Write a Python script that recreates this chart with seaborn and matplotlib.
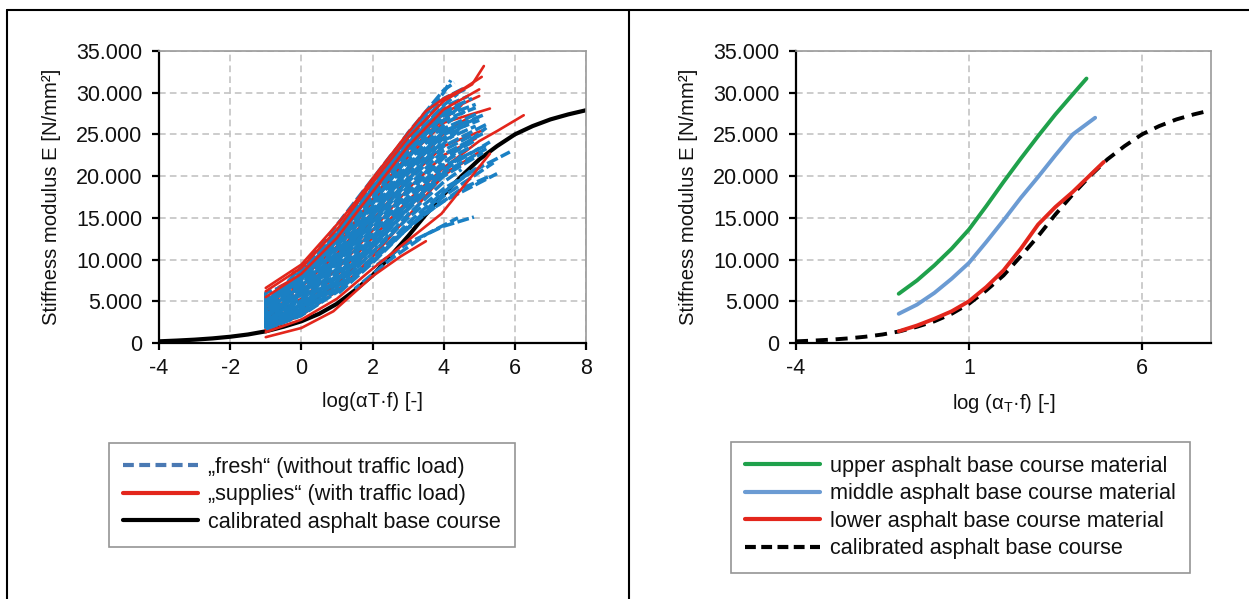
import numpy as np
import pandas as pd
import matplotlib
matplotlib.use("Agg")
import matplotlib.pyplot as plt
from matplotlib.lines import Line2D
from matplotlib.ticker import FuncFormatter
import seaborn as sns

# ---------------------------------------------------------------------------
# Master curve data: stiffness modulus E [N/mm²] over log(aT*f) [-]
# ---------------------------------------------------------------------------
# "fresh" specimens (without traffic load), one entry per test series
fresh_x = [
    [-1, 0, 1, 2, 3, 4, 4.2],
    [-1, 0, 1, 2, 3, 4, 4.6],
    [-1, 0, 1, 2, 3, 4, 4.8],
    [-1, 0, 1, 2, 3, 4, 4.9],
    [-1, 0, 1, 2, 3, 4, 5.0],
    [-1, 0, 1, 2, 3, 4, 4.7],
    [-1, 0, 1, 2, 3, 4, 5.2],
    [-1, 0, 1, 2, 3, 4, 5.1],
    [-1, 0, 1, 2, 3, 4, 4.8],
    [-1, 0, 1, 2, 3, 4, 5.3],
    [-1, 0, 1, 2, 3, 4, 5, 5.86],
    [-1, 0, 1, 2, 3, 4, 5, 5.5],
    [2.0, 3.0, 4.0, 4.85],
    [2.5, 3.5, 4.5, 5.3],
    [-1, 0, 1, 2, 3, 3.8],
    [-1, 0, 1, 2, 3, 4, 4.5],
    [-1, 0, 1, 2, 3, 4, 5.0],
    [-1, 0, 1, 2, 3, 4, 4.9],
    [-1, 0, 1, 2, 3, 4, 5.4],
    [1.5, 2.5, 3.5, 4.4],
    [-1, 0, 1, 2, 3, 4, 4.6],
    [-1, 0, 1, 2, 3, 4, 5.1],
    [-1, 0, 1, 2, 3, 4, 4.4],
    [-1, -1, -0.5, 0.5, 1.5, 2.5, 3.5],
    [-1, 0, 1, 2, 3, 4, 4.7],
    [-1, 0, 1, 2, 3, 4, 5.0],
    [-1, 0, 1, 2, 3, 4, 5.2],
    [-0.5, 0.5, 1.5, 2.5, 3.5, 4.5],
    [-0.5, 0.5, 1.5, 2.5, 3.5, 4.5],
    [0, 1, 2, 3, 4, 4.9],
    [-1, 0, 1, 2, 3, 4, 4.5],
    [-1, 0, 1, 2, 3, 4, 4.3],
    [-1, 0, 1, 2, 3, 4, 4.6],
    [-1, 0, 1, 2, 3, 4, 4.9],
    [-1, 0, 1, 2, 3, 4, 5.1],
    [-1, 0, 1, 2, 3, 4, 4.8],
    [-1, 0, 1, 2, 3, 4, 5.2],
    [-1, 0, 1, 2, 3, 4, 5.0],
    [0.5, 1.5, 2.5, 3.5, 4.5],
    [0.5, 1.5, 2.5, 3.5, 4.5, 5.2],
    [-1, -1, -0.6, 0.2, 1.2, 2.2, 3.2, 4.2],
    [1, 2, 3, 4, 4.8],
]
fresh_E = [
    [4600, 7800, 12600, 18600, 24800, 30000, 31500],
    [4700, 8000, 12600, 18500, 24400, 29200, 30400],
    [4300, 7400, 12000, 17800, 23400, 27800, 29300],
    [3900, 6800, 11200, 16800, 22300, 26700, 28200],
    [3500, 6300, 10500, 15900, 21300, 25700, 27600],
    [3200, 5800, 9800, 15000, 20300, 24600, 26300],
    [2900, 5300, 9200, 14200, 19300, 23600, 26200],
    [2700, 4900, 8600, 13400, 18400, 22600, 25100],
    [2500, 4600, 8100, 12700, 17600, 21700, 23600],
    [2300, 4300, 7600, 12000, 16800, 20800, 24100],
    [2000, 3800, 6800, 10800, 15000, 18500, 21000, 22900],
    [1800, 3500, 6400, 10200, 14000, 17000, 19200, 20300],
    [9000, 12000, 14000, 15100],
    [12000, 15500, 18500, 20000],
    [5000, 8300, 13200, 19500, 25000, 29000],
    [4000, 7000, 11500, 17300, 22800, 27300, 28700],
    [3100, 5900, 9900, 15200, 20700, 25000, 26700],
    [2600, 4700, 8300, 13000, 18000, 22200, 24300],
    [1600, 3300, 6100, 9800, 13800, 17600, 21600],
    [6500, 10000, 13000, 15000],
    [3700, 6600, 10900, 16400, 21800, 26100, 27800],
    [2100, 4000, 7200, 11400, 16000, 20000, 22800],
    [4500, 7700, 12300, 18200, 23900, 28500, 29900],
    [1500, 6000, 6800, 11400, 16900, 22400, 27200],
    [4900, 8100, 12700, 18400, 23900, 28300, 29600],
    [3300, 6000, 10100, 15400, 20900, 25300, 27000],
    [2400, 4500, 7900, 12300, 17200, 21200, 23700],
    [4200, 7600, 12000, 17000, 22000, 25800],
    [3000, 5800, 9400, 13800, 18500, 22500],
    [5600, 9500, 14400, 19800, 24300, 26000],
    [1900, 3700, 6700, 10900, 15400, 19300, 20800],
    [5000, 8200, 13000, 19200, 25200, 30300, 31200],
    [4500, 7600, 12300, 18400, 24300, 29300, 30600],
    [4100, 7200, 11800, 17500, 22900, 27200, 28600],
    [3400, 6100, 10300, 15600, 21000, 25400, 27300],
    [2800, 5100, 8900, 13800, 18800, 23100, 24900],
    [2200, 4100, 7400, 11700, 16400, 20400, 23300],
    [1700, 3400, 6300, 10000, 14400, 18100, 21200],
    [9000, 13800, 19500, 24800, 28500],
    [6200, 10000, 14500, 19300, 23500, 25800],
    [1800, 5500, 6200, 9500, 14000, 19300, 24300, 28300],
    [5800, 9600, 13800, 18000, 20800],
]

# "supplies" specimens (with traffic load)
supplies_x = [
    [-1, 0, 1, 1.5, 2, 3, 3.5, 4, 4.6, 5.07],
    [-1, 0, 1, 2, 3, 4, 4.8, 5.13],
    [-1, 0, 1, 2, 3, 4, 5.0],
    [-1, 0, 1, 2, 3, 4, 5.3],
    [-1, 0, 1, 2, 3, 4, 5.1],
    [-1, 0, 1, 2, 3, 4, 5, 5.5, 6.25],
    [-1, 0, 1, 2, 3, 3.94, 5.3],
    [-1, 0, 0.9, 2, 2.8, 3.5],
    [-1, 0, 1, 2, 3, 4, 5.0],
    [-1, 0, 1, 2, 3, 4, 4.8],
    [-0.66, -0.64, 0, 1, 2, 3, 4, 5.0],
    [-0.26, -0.24, 0.5, 1.5, 2.5, 3.5, 4.5],
    [-1, 0, 1, 2, 3, 4, 4.9],
    [-1, 0, 1, 2, 3, 4, 4.7],
]
supplies_E = [
    [6600, 9400, 14200, 16800, 19700, 25200, 27800, 29300, 30600, 31900],
    [6200, 9000, 13600, 19200, 24600, 29000, 31000, 33200],
    [5500, 8300, 12600, 18100, 23600, 28000, 30400],
    [4800, 7600, 11600, 16900, 22300, 26400, 28100],
    [3600, 6100, 9700, 14700, 19700, 23600, 25500],
    [2600, 4600, 8100, 12600, 17100, 21000, 24200, 25400, 27300],
    [1300, 2800, 5300, 8900, 12300, 15500, 22700],
    [700, 1800, 3800, 8000, 10400, 12200],
    [1600, 3300, 6200, 10300, 15200, 20100, 22900],
    [4100, 6700, 10700, 15700, 20700, 25100, 27300],
    [2700, 6700, 8200, 12600, 18000, 23200, 27600, 29600],
    [3100, 8400, 10000, 14500, 20000, 25000, 28500],
    [3000, 5300, 8800, 13500, 18500, 22500, 24500],
    [2200, 4000, 7000, 11500, 16200, 20300, 22000],
]
# series lying on the outer edge of the bundle (drawn above the fresh curves)
supplies_outer = [0, 1, 2, 6, 7]

# calibrated asphalt base course (master curve)
calibrated_x = [-4, -3.5, -3, -2.5, -2, -1.5, -1, -0.5, 0, 0.5, 1, 1.5, 2,
                2.5, 3, 3.5, 4, 4.5, 5, 5.5, 6, 6.5, 7, 7.5, 8]
calibrated_E = [200, 290, 400, 550, 750, 1020, 1400, 1950, 2600, 3500, 4700,
                6300, 8100, 10400, 12800, 15400, 17800, 20000, 22000, 23600,
                25000, 26000, 26800, 27400, 27900]

# base course layers
upper_x = [-1.03, -0.5, 0, 0.5, 1, 1.5, 2, 2.5, 3, 3.5, 4, 4.4]
upper_E = [5900, 7500, 9300, 11300, 13600, 16400, 19300, 22100, 24800, 27400,
           29800, 31700]
middle_x = [-1.03, -0.5, 0, 0.5, 1, 1.5, 2, 2.5, 3, 3.5, 4, 4.65]
middle_E = [3500, 4600, 6000, 7700, 9600, 12100, 14700, 17400, 19900, 22500,
            25000, 27000]
lower_x = [-1.03, -0.5, 0, 0.5, 1, 1.5, 2, 2.5, 3, 3.5, 4, 4.5, 4.9]
lower_E = [1400, 2100, 2900, 3800, 5000, 6700, 8700, 11300, 14200, 16300,
           18100, 20100, 21700]

left_xticks = [-4, -2, 0, 2, 4, 6, 8]
right_xticks = [-4, 1, 6]
yticks = [0, 5000, 10000, 15000, 20000, 25000, 30000, 35000]

legend_left = ["„fresh“ (without traffic load)",
               "„supplies“ (with traffic load)",
               "calibrated asphalt base course"]
legend_right = ["upper asphalt base course material",
                "middle asphalt base course material",
                "lower asphalt base course material",
                "calibrated asphalt base course"]


def to_long(xs, ys):
    rows = []
    for i, (cx, cy) in enumerate(zip(xs, ys)):
        for order, (a, b) in enumerate(zip(cx, cy)):
            rows.append({"curve": i, "order": order, "x": a, "E": b})
    return pd.DataFrame(rows)


df_fresh = to_long(fresh_x, fresh_E)
df_supplies = to_long(supplies_x, supplies_E)
outer_mask = df_supplies["curve"].isin(supplies_outer)
df_cal = pd.DataFrame({"x": calibrated_x, "E": calibrated_E})
df_layers = pd.concat([
    pd.DataFrame({"x": upper_x, "E": upper_E, "layer": "upper"}),
    pd.DataFrame({"x": middle_x, "E": middle_E, "layer": "middle"}),
    pd.DataFrame({"x": lower_x, "E": lower_E, "layer": "lower"}),
])

# ---------------------------------------------------------------------------
sns.set_theme(style="white")
plt.rcParams["font.family"] = ["Liberation Sans", "DejaVu Sans"]
plt.rcParams["mathtext.fontset"] = "custom"
plt.rcParams["mathtext.rm"] = "Liberation Sans"
plt.rcParams["mathtext.it"] = "Liberation Sans"
plt.rcParams["axes.unicode_minus"] = False

FS_TICK = 15.5
FS_LABEL = 14.6
FS_LEG = 15.6
TXT = "#111111"
C_FRESH = "#1a80c4"
C_FRESH_LEG = "#4a79b3"
C_RED = "#e3261c"
C_GREEN = "#1fa14b"
C_MID = "#6b9bd3"
GRID = "#c4c4c4"

W, H = 1249, 599
fig = plt.figure(figsize=(W / 100, H / 100), dpi=100)
ax1 = fig.add_axes([159 / W, 1 - 343 / H, 427 / W, 292 / H])
ax2 = fig.add_axes([796 / W, 1 - 343 / H, 415 / W, 292 / H])

thousands = FuncFormatter(lambda v, p: f"{v:,.0f}".replace(",", "."))


def style_axes(ax, xticks):
    ax.set_xlim(-4, 8)
    ax.set_ylim(0, 35000)
    ax.set_xticks(xticks)
    ax.set_yticks(yticks)
    ax.yaxis.set_major_formatter(thousands)
    ax.grid(True, color=GRID, linestyle=(0, (4, 2.5)), linewidth=1.2)
    ax.set_axisbelow(True)
    for s in ("left", "bottom"):
        ax.spines[s].set_color("black")
        ax.spines[s].set_linewidth(1.6)
    for s in ("top", "right"):
        ax.spines[s].set_color("#9a9a9a")
        ax.spines[s].set_linewidth(1.2)
    ax.tick_params(axis="both", which="major", direction="out", length=5,
                   width=1.6, color="black", labelsize=FS_TICK,
                   labelcolor=TXT, left=True, bottom=True)
    ax.tick_params(axis="y", pad=7)
    ax.tick_params(axis="x", pad=6)
    ax.set_ylabel("Stiffness modulus E [N/mm²]", fontsize=FS_LABEL,
                  labelpad=11, color=TXT)


# ---- left panel ----------------------------------------------------------
sns.lineplot(data=df_cal, x="x", y="E", color="black", lw=3.0, ax=ax1,
             legend=False)
sns.lineplot(data=df_supplies[~outer_mask], x="x", y="E", units="curve",
             estimator=None, sort=False, color=C_RED, lw=1.9, ax=ax1,
             legend=False)
n_before = len(ax1.lines)
sns.lineplot(data=df_fresh, x="x", y="E", units="curve", estimator=None,
             sort=False, color=C_FRESH, lw=2.5, linestyle=(0, (3.4, 1.0)),
             ax=ax1, legend=False)
# stagger the dash phase of the individual series
for k, ln in enumerate(ax1.lines[n_before:]):
    ln.set_linestyle(((k * 1.7) % 4.4, (3.4, 1.0)))
sns.lineplot(data=df_supplies[outer_mask], x="x", y="E", units="curve",
             estimator=None, sort=False, color=C_RED, lw=1.9, ax=ax1,
             legend=False)
style_axes(ax1, left_xticks)
ax1.set_xlabel("log(αT·f) [-]", fontsize=FS_LABEL, labelpad=9, color=TXT)

# ---- right panel ---------------------------------------------------------
sns.lineplot(data=df_cal, x="x", y="E", color="black", lw=2.8,
             linestyle=(0, (3.1, 2.0)), ax=ax2, legend=False)
sns.lineplot(data=df_layers, x="x", y="E", hue="layer", sort=False,
             palette={"upper": C_GREEN, "middle": C_MID, "lower": C_RED},
             lw=2.8, ax=ax2, legend=False)
style_axes(ax2, right_xticks)
ax2.set_xlabel(r"log ($\alpha_\mathrm{T}$·f) [-]", fontsize=FS_LABEL,
               labelpad=9, color=TXT)

# ---- legends -------------------------------------------------------------
h_left = [Line2D([], [], color=C_FRESH_LEG, lw=3, linestyle=(0, (2.6, 1.3))),
          Line2D([], [], color=C_RED, lw=3),
          Line2D([], [], color="black", lw=3)]
h_right = [Line2D([], [], color=C_GREEN, lw=3),
           Line2D([], [], color=C_MID, lw=3),
           Line2D([], [], color=C_RED, lw=3),
           Line2D([], [], color="black", lw=3, linestyle=(0, (2.6, 1.3)))]

leg_kw = dict(loc="upper left", fontsize=FS_LEG, frameon=True, fancybox=False,
              handlelength=3.45, handletextpad=0.5, labelspacing=0.3,
              borderpad=0.64, borderaxespad=0)
lg1 = fig.legend(h_left, legend_left, bbox_to_anchor=(109 / W, 1 - 443 / H),
                 **leg_kw)
lg2 = fig.legend(h_right, legend_right, bbox_to_anchor=(731 / W, 1 - 442 / H),
                 **leg_kw)
for lg in (lg1, lg2):
    lg.get_frame().set_edgecolor("#7a7a7a")
    lg.get_frame().set_linewidth(1.2)
    for t in lg.get_texts():
        t.set_color(TXT)

# ---- panel frame ---------------------------------------------------------
for xs, ys in [((7 / W, 1), (1 - 10 / H, 1 - 10 / H)),
               ((7 / W, 7 / W), (1 - 10 / H, 0)),
               ((629 / W, 629 / W), (1 - 10 / H, 0))]:
    fig.add_artist(Line2D(xs, ys, transform=fig.transFigure, color="black",
                          lw=1.5))

fig.savefig("out.png", dpi=100, facecolor="white")
